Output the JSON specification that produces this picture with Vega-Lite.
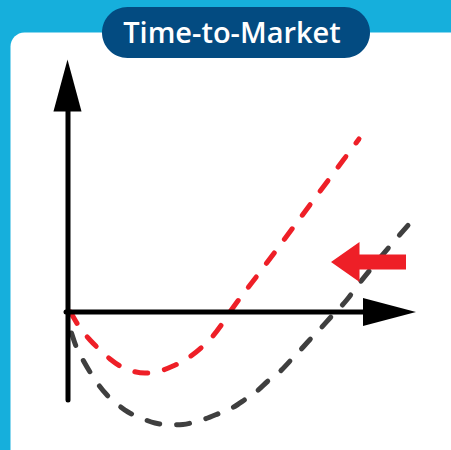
{
  "$schema": "https://vega.github.io/schema/vega-lite/v6.json",
  "width": 451,
  "height": 450,
  "padding": 0,
  "autosize": {"type": "none"},
  "background": "#16afdc",
  "config": {"view": {"stroke": null}},
  "datasets": {
    "panel": [{"x": -57.5, "x2": 430, "y": 279.5, "y2": -170}],
    "pill": [{"x": 34, "x2": 302, "y": 305, "y2": 254, "label": "Time-to-Market"}],
    "axes": [
      {"axis": "y", "x": 0, "x2": 0, "y": -88, "y2": 206},
      {"axis": "x", "x": -2, "x2": 298, "y": 0, "y2": 0}
    ],
    "heads": [
      {"name": "yhead", "x": -0.5, "y": 226.5},
      {"name": "xhead", "x": 321.5, "y": 0}
    ],
    "redarrow": [{"x": 300.5, "y": 50}],
    "curves": [
      {"series": "new", "x": 2.5, "y": 0},
      {"series": "new", "x": 12, "y": -16},
      {"series": "new", "x": 22, "y": -28},
      {"series": "new", "x": 30, "y": -36},
      {"series": "new", "x": 42, "y": -47},
      {"series": "new", "x": 52, "y": -54},
      {"series": "new", "x": 64, "y": -59},
      {"series": "new", "x": 77, "y": -61},
      {"series": "new", "x": 92, "y": -59},
      {"series": "new", "x": 105, "y": -54},
      {"series": "new", "x": 120, "y": -46},
      {"series": "new", "x": 134, "y": -35},
      {"series": "new", "x": 144, "y": -25},
      {"series": "new", "x": 154, "y": -12},
      {"series": "new", "x": 162, "y": 0},
      {"series": "new", "x": 192, "y": 40},
      {"series": "new", "x": 227, "y": 87},
      {"series": "new", "x": 259, "y": 130},
      {"series": "new", "x": 291, "y": 173},
      {"series": "old", "x": 3.5, "y": -21},
      {"series": "old", "x": 8.7, "y": -36},
      {"series": "old", "x": 15, "y": -48},
      {"series": "old", "x": 22, "y": -60},
      {"series": "old", "x": 30, "y": -72},
      {"series": "old", "x": 39, "y": -83},
      {"series": "old", "x": 49, "y": -92},
      {"series": "old", "x": 60, "y": -100},
      {"series": "old", "x": 73, "y": -106},
      {"series": "old", "x": 87, "y": -111},
      {"series": "old", "x": 102, "y": -113},
      {"series": "old", "x": 115, "y": -112.5},
      {"series": "old", "x": 130, "y": -109},
      {"series": "old", "x": 137, "y": -107},
      {"series": "old", "x": 152, "y": -101},
      {"series": "old", "x": 164, "y": -96},
      {"series": "old", "x": 177, "y": -87.5},
      {"series": "old", "x": 189, "y": -79},
      {"series": "old", "x": 200, "y": -69},
      {"series": "old", "x": 212, "y": -59.5},
      {"series": "old", "x": 222, "y": -49},
      {"series": "old", "x": 232, "y": -38.5},
      {"series": "old", "x": 242, "y": -27.5},
      {"series": "old", "x": 252, "y": -17},
      {"series": "old", "x": 262, "y": -6},
      {"series": "old", "x": 278.7, "y": 12},
      {"series": "old", "x": 290, "y": 27},
      {"series": "old", "x": 302, "y": 42},
      {"series": "old", "x": 322, "y": 66},
      {"series": "old", "x": 350, "y": 98}
    ]
  },
  "layer": [
    {
      "data": {"name": "panel"},
      "mark": {"type": "rect", "color": "#ffffff", "cornerRadius": 14, "clip": true},
      "encoding": {
        "x": {"field": "x", "type": "quantitative", "scale": {"domain": [-68, 383], "nice": false, "zero": false}, "axis": null},
        "x2": {"field": "x2"},
        "y": {"field": "y", "type": "quantitative", "scale": {"domain": [-138, 312], "nice": false, "zero": false}, "axis": null},
        "y2": {"field": "y2"}
      }
    },
    {
      "data": {"name": "pill"},
      "mark": {"type": "rect", "color": "#034b81", "cornerRadius": 25.5},
      "encoding": {
        "x": {"field": "x", "type": "quantitative", "scale": {"domain": [-68, 383], "nice": false, "zero": false}, "axis": null},
        "x2": {"field": "x2"},
        "y": {"field": "y", "type": "quantitative", "scale": {"domain": [-138, 312], "nice": false, "zero": false}, "axis": null},
        "y2": {"field": "y2"}
      }
    },
    {
      "data": {"name": "pill"},
      "mark": {"type": "text", "color": "#ffffff", "font": "Open Sans", "fontWeight": 600, "fontSize": 29, "align": "center", "baseline": "alphabetic"},
      "encoding": {
        "x": {"datum": 164, "type": "quantitative", "scale": {"domain": [-68, 383], "nice": false, "zero": false}, "axis": null},
        "y": {"datum": 268.7, "type": "quantitative", "scale": {"domain": [-138, 312], "nice": false, "zero": false}, "axis": null},
        "text": {"field": "label"}
      }
    },
    {
      "data": {"name": "curves"},
      "mark": {"type": "line", "interpolate": "monotone", "strokeWidth": 5, "strokeDash": [13, 17], "strokeCap": "round"},
      "encoding": {
        "x": {"field": "x", "type": "quantitative", "scale": {"domain": [-68, 383], "nice": false, "zero": false}, "axis": null},
        "y": {"field": "y", "type": "quantitative", "scale": {"domain": [-138, 312], "nice": false, "zero": false}, "axis": null},
        "color": {"field": "series", "type": "nominal", "scale": {"domain": ["new", "old"], "range": ["#ee1f27", "#3f3f3f"]}, "legend": null},
        "detail": {"field": "series"},
        "order": {"field": "x", "type": "quantitative"}
      }
    },
    {
      "data": {"name": "axes"},
      "mark": {"type": "rule", "color": "#000000", "strokeWidth": 5, "strokeCap": "round"},
      "encoding": {
        "x": {"field": "x", "type": "quantitative", "scale": {"domain": [-68, 383], "nice": false, "zero": false}, "axis": null},
        "x2": {"field": "x2"},
        "y": {"field": "y", "type": "quantitative", "scale": {"domain": [-138, 312], "nice": false, "zero": false}, "axis": null},
        "y2": {"field": "y2"}
      }
    },
    {
      "data": {"name": "heads"},
      "transform": [{"filter": "datum.name === 'yhead'"}],
      "mark": {"type": "point", "filled": true, "color": "#000000", "opacity": 1, "size": 2704, "shape": "M0,-1L0.54,1L-0.54,1Z"},
      "encoding": {
        "x": {"field": "x", "type": "quantitative", "scale": {"domain": [-68, 383], "nice": false, "zero": false}, "axis": null},
        "y": {"field": "y", "type": "quantitative", "scale": {"domain": [-138, 312], "nice": false, "zero": false}, "axis": null}
      }
    },
    {
      "data": {"name": "heads"},
      "transform": [{"filter": "datum.name === 'xhead'"}],
      "mark": {"type": "point", "filled": true, "color": "#000000", "opacity": 1, "size": 2809, "shape": "M1,0L-1,0.53L-1,-0.53Z"},
      "encoding": {
        "x": {"field": "x", "type": "quantitative", "scale": {"domain": [-68, 383], "nice": false, "zero": false}, "axis": null},
        "y": {"field": "y", "type": "quantitative", "scale": {"domain": [-138, 312], "nice": false, "zero": false}, "axis": null}
      }
    },
    {
      "data": {"name": "redarrow"},
      "mark": {"type": "point", "filled": true, "color": "#ee1f27", "opacity": 1, "size": 5625, "shape": "M-1,0L-0.24,-0.533L-0.24,-0.2L1,-0.2L1,0.2L-0.24,0.2L-0.24,0.533Z"},
      "encoding": {
        "x": {"field": "x", "type": "quantitative", "scale": {"domain": [-68, 383], "nice": false, "zero": false}, "axis": null},
        "y": {"field": "y", "type": "quantitative", "scale": {"domain": [-138, 312], "nice": false, "zero": false}, "axis": null}
      }
    }
  ]
}
